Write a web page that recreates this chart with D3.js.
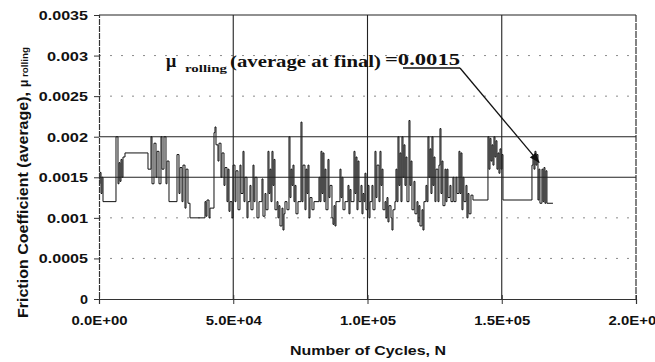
<!DOCTYPE html>
<html>
<head>
<meta charset="utf-8">
<script src="https://cdn.jsdelivr.net/npm/d3@7"></script>
<style>
  html, body { margin: 0; padding: 0; background: #fff; }
  svg { display: block; }
</style>
</head>
<body>
<svg id="chart" width="655" height="362"></svg>
<script>
// ---- data ----
const xTicks = [0, 50000, 100000, 150000, 200000];
const xTickLabels = ["0.0E+00", "5.0E+04", "1.0E+05", "1.5E+05", "2.0E+05"];
const yTicks = [0, 0.0005, 0.001, 0.0015, 0.002, 0.0025, 0.003, 0.0035];
const yTickLabels = ["0", "0.0005", "0.001", "0.0015", "0.002", "0.0025", "0.003", "0.0035"];
const yMajorGrid = [0.0015, 0.002, 0.0035];
const yMinorGrid = [0.0005, 0.001, 0.0025, 0.003];
const xGrid = [50000, 100000, 150000];

const cycles = [
  0,372,745,1117,1490,6331,7076,7448,7820,8193,8565,8938,9682,18248,19365,19737,20482,21227,21599,22344,
  23089,23461,24206,24951,25323,26068,29047,29792,30164,30909,31282,32026,32399,33144,33888,39474,39847,40219,40964,41336,
  42826,43198,43571,44316,44688,45433,45805,46550,46922,47667,48040,48412,
  48784,49529,49902,50646,51019,51764,52508,52881,53626,53998,54370,55115,55488,56232,56605,57350,57722,58094,58839,59584,
  60701,61074,61818,62191,62936,63308,63680,64053,64425,64798,65170,65542,66287,66660,67032,67404,68149,68522,68894,69266,
  70011,70756,71128,71501,71873,72246,72618,72990,73363,74108,75225,75597,75970,76714,77087,77459,77832,78204,78576,79321,
  80066,81928,82300,82673,83045,83418,83790,84162,84535,85280,85652,86024,86769,87142,87514,87886,88259,89748,90121,90493,
  90866,91610,92728,93100,93472,93845,94962,95334,95707,96079,96452,96824,97569,97941,98314,98686,99058,99431,100176,100548,
  100920,101665,102038,102782,103155,103527,104272,104644,105017,105389,105762,106506,106879,107251,107624,107996,108741,109113,109486,110230,
  110603,110975,111348,111720,112092,112465,112837,113210,113582,113954,114327,114699,115444,115816,116189,116561,117306,117678,118423,118796,
  119168,119540,120285,120658,121030,121775,122147,122520,122892,123264,123637,124009,124382,124754,125126,125499,126244,126616,126988,127361,
  127733,128106,128850,129223,129595,129968,130712,131085,131830,132202,132947,133319,134064,134436,134809,135181,135554,135926,136671,137043,
  137416,137788,138533,139278,144864,145236,145608,145981,146353,146726,147098,147470,147843,148215,148588,148960,149332,149705,150077,150450,
  161249,161622,161994,162366,162739,163111,163484,163856,164228,164973,165346,165718,166090,166463,166835,169070
];
const muRolling = [
  0.00142,0.00156,0.00130,0.00150,0.00120,0.00200,0.00142,0.00168,0.00145,0.00172,0.00150,0.00175,0.00180,0.00160,0.00200,0.00142,0.00192,0.00150,0.00182,0.00142,
  0.00200,0.00160,0.00200,0.00142,0.00170,0.00120,0.00178,0.00130,0.00162,0.00120,0.00165,0.00112,0.00160,0.00118,0.00100,0.00120,0.00102,0.00122,0.00100,0.00112,
  0.00205,0.00212,0.00190,0.00170,0.00192,0.00150,0.00180,0.00140,0.00162,0.00120,0.00160,0.00108,
  0.00120,0.00100,0.00165,0.00120,0.00158,0.00110,0.00165,0.00130,0.00182,0.00120,0.00150,0.00100,0.00120,0.00140,0.00110,0.00165,0.00120,0.00150,0.00100,0.00120,
  0.00148,0.00102,0.00130,0.00110,0.00182,0.00130,0.00160,0.00120,0.00182,0.00140,0.00172,0.00110,0.00120,0.00100,0.00115,0.00090,0.00112,0.00085,0.00105,0.00120,
  0.00110,0.00200,0.00125,0.00160,0.00140,0.00165,0.00120,0.00140,0.00105,0.00120,0.00218,0.00120,0.00165,0.00110,0.00160,0.00130,0.00165,0.00100,0.00125,0.00110,
  0.00120,0.00150,0.00120,0.00182,0.00130,0.00180,0.00120,0.00160,0.00110,0.00172,0.00125,0.00140,0.00100,0.00092,0.00115,0.00090,0.00120,0.00160,0.00125,0.00150,
  0.00110,0.00120,0.00140,0.00105,0.00135,0.00120,0.00182,0.00130,0.00175,0.00110,0.00170,0.00120,0.00140,0.00105,0.00130,0.00120,0.00155,0.00110,0.00140,0.00100,
  0.00120,0.00140,0.00110,0.00182,0.00125,0.00165,0.00120,0.00182,0.00140,0.00160,0.00110,0.00120,0.00100,0.00125,0.00095,0.00115,0.00100,0.00085,0.00110,0.00120,
  0.00160,0.00120,0.00200,0.00140,0.00180,0.00120,0.00200,0.00150,0.00190,0.00140,0.00175,0.00120,0.00220,0.00140,0.00170,0.00110,0.00145,0.00105,0.00120,0.00095,
  0.00115,0.00090,0.00110,0.00085,0.00120,0.00140,0.00120,0.00200,0.00150,0.00185,0.00130,0.00200,0.00140,0.00175,0.00120,0.00160,0.00120,0.00165,0.00210,0.00130,
  0.00170,0.00115,0.00160,0.00120,0.00160,0.00125,0.00140,0.00120,0.00150,0.00120,0.00150,0.00130,0.00182,0.00130,0.00180,0.00110,0.00150,0.00120,0.00140,0.00100,
  0.00130,0.00105,0.00128,0.00122,0.00200,0.00160,0.00198,0.00170,0.00190,0.00165,0.00200,0.00175,0.00195,0.00160,0.00180,0.00155,0.00185,0.00160,0.00178,0.00122,
  0.00165,0.00175,0.00160,0.00182,0.00165,0.00178,0.00122,0.00160,0.00118,0.00160,0.00120,0.00162,0.00118,0.00158,0.00118,0.00118
];
const annotationValue = "0.0015";
const annotationPoint = [164000, 0.00168];

// ---- layout ----
const svg = d3.select("#chart");
const L = 99, R = 636, T = 15, B = 299;
const x = d3.scaleLinear().domain([0, 200000]).range([L, R]);
const y = d3.scaleLinear().domain([0, 0.0035]).range([B, T]);
const sans = "'Liberation Sans', Arial, sans-serif";
const serif = "'Liberation Serif', 'Times New Roman', serif";

// minor dotted gridlines
svg.append("g").selectAll("line").data(yMinorGrid).join("line")
  .attr("x1", L).attr("x2", R).attr("y1", d => y(d)).attr("y2", d => y(d))
  .attr("stroke", "#8a8a8a").attr("stroke-width", 1).attr("stroke-dasharray", "2,9");

// data line
const pts = cycles.map((c, i) => [c, muRolling[i]]);
svg.append("path").datum(pts)
  .attr("fill", "none").attr("stroke", "#111").attr("stroke-width", 1)
  .attr("d", d3.line().x(d => x(d[0])).y(d => y(d[1])).curve(d3.curveStepAfter));

// major gridlines
svg.append("g").selectAll("line").data(yMajorGrid).join("line")
  .attr("x1", L).attr("x2", R).attr("y1", d => y(d)).attr("y2", d => y(d))
  .attr("stroke", "#222").attr("stroke-width", 1.1);
svg.append("g").selectAll("line").data(xGrid).join("line")
  .attr("x1", d => x(d)).attr("x2", d => x(d)).attr("y1", T).attr("y2", B)
  .attr("stroke", "#222").attr("stroke-width", 1.1);

// axes
const yAxis = svg.append("g").attr("transform", `translate(${L},0)`)
  .call(d3.axisLeft(y).tickValues(yTicks).tickSize(5).tickFormat((d, i) => yTickLabels[i]));
yAxis.select(".domain").attr("stroke", "#333").attr("stroke-width", 1.2).attr("stroke-dasharray", "6,1");
yAxis.selectAll(".tick line").attr("stroke", "#333");
yAxis.selectAll(".tick text")
  .attr("x", -11).attr("dy", "0.36em")
  .style("font-family", sans).style("font-weight", "bold").style("font-size", "12.5px").attr("fill", "#111")
  .attr("textLength", (d, i) => yTickLabels[i].length === 1 ? 8 : yTickLabels[i].length * 8.2)
  .attr("lengthAdjust", "spacingAndGlyphs");

const xAxis = svg.append("g").attr("transform", `translate(0,${B})`)
  .call(d3.axisBottom(x).tickValues(xTicks).tickSize(5).tickFormat((d, i) => xTickLabels[i]));
xAxis.select(".domain").attr("stroke", "#333").attr("stroke-width", 1.2);
xAxis.selectAll(".tick line").attr("y1", -4).attr("stroke", "#333");
xAxis.selectAll(".tick text")
  .attr("y", 17)
  .style("font-family", sans).style("font-weight", "bold").style("font-size", "12.5px").attr("fill", "#111")
  .attr("textLength", 56).attr("lengthAdjust", "spacingAndGlyphs");

// right border
svg.append("line").attr("x1", R).attr("x2", R).attr("y1", T).attr("y2", B)
  .attr("stroke", "#333").attr("stroke-width", 1.2).attr("stroke-dasharray", "7,1");

// axis titles
svg.append("text").attr("x", 368).attr("y", 355).attr("text-anchor", "middle")
  .style("font-family", sans).style("font-weight", "bold").style("font-size", "12.5px").attr("fill", "#111")
  .attr("textLength", 156).attr("lengthAdjust", "spacingAndGlyphs")
  .text("Number of Cycles, N");

const yl = svg.append("g").attr("transform", "translate(28,318) rotate(-90)");
yl.append("text").attr("x", 0).attr("y", 0)
  .style("font-family", sans).style("font-weight", "bold").style("font-size", "14.5px").attr("fill", "#111")
  .attr("textLength", 226).attr("lengthAdjust", "spacingAndGlyphs")
  .text("Friction Coefficient (average),");
yl.append("text").attr("x", 231).attr("y", 0)
  .style("font-family", sans).style("font-weight", "bold").style("font-size", "12px").attr("fill", "#111")
  .text("μ");
yl.append("text").attr("x", 241).attr("y", 0)
  .style("font-family", sans).style("font-weight", "bold").style("font-size", "8.5px").attr("fill", "#111")
  .attr("textLength", 30).attr("lengthAdjust", "spacingAndGlyphs")
  .text("rolling");

// annotation
const ann = svg.append("g").attr("fill", "#111").style("font-family", serif).style("font-weight", "bold");
ann.append("text").attr("x", 166).attr("y", 67).style("font-size", "18px").text("μ");
ann.append("text").attr("x", 185).attr("y", 72).style("font-size", "11px")
  .attr("textLength", 42).attr("lengthAdjust", "spacingAndGlyphs").text("rolling");
ann.append("text").attr("x", 230).attr("y", 67).style("font-size", "17.5px")
  .attr("textLength", 151).attr("lengthAdjust", "spacingAndGlyphs").text("(average at final)");
ann.append("text").attr("x", 385).attr("y", 65).style("font-size", "17.5px")
  .attr("textLength", 75).attr("lengthAdjust", "spacingAndGlyphs").text("=" + annotationValue);

const ux0 = 403, ux1 = 460, uy = 68;
svg.append("line").attr("x1", ux0).attr("x2", ux1).attr("y1", uy).attr("y2", uy)
  .attr("stroke", "#111").attr("stroke-width", 1.6);
const tx = x(annotationPoint[0]), ty = y(annotationPoint[1]);
svg.append("line").attr("x1", ux1).attr("y1", uy).attr("x2", tx).attr("y2", ty)
  .attr("stroke", "#111").attr("stroke-width", 1.3);
// arrowhead
const ang = Math.atan2(ty - uy, tx - ux1);
const ah = 10, aw = 4;
const bx = tx - ah * Math.cos(ang), by = ty - ah * Math.sin(ang);
const p1 = [bx + aw * Math.sin(ang), by - aw * Math.cos(ang)];
const p2 = [bx - aw * Math.sin(ang), by + aw * Math.cos(ang)];
svg.append("path").attr("d", `M${tx},${ty}L${p1[0]},${p1[1]}L${p2[0]},${p2[1]}Z`).attr("fill", "#111");
</script>
</body>
</html>
